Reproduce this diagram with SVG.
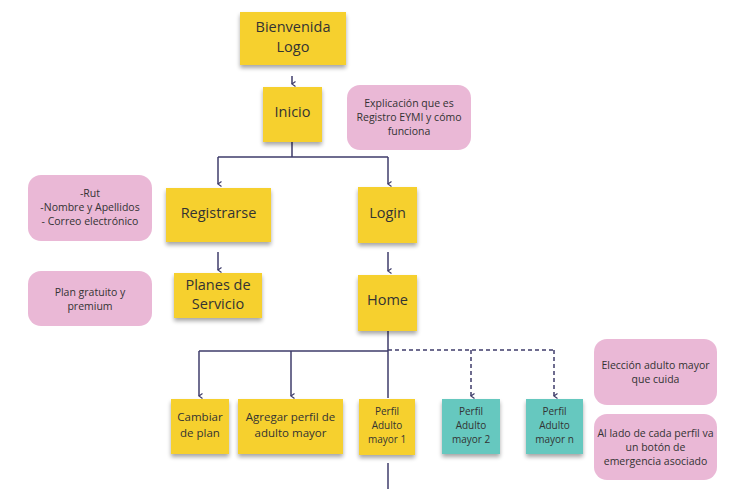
<svg xmlns="http://www.w3.org/2000/svg" width="740" height="489" viewBox="0 0 740 489">
<defs>
<filter id="sh" x="-20%" y="-20%" width="140%" height="160%">
<feGaussianBlur in="SourceAlpha" stdDeviation="2"/>
<feOffset dx="0" dy="3" result="b"/>
<feComponentTransfer><feFuncA type="linear" slope="0.35"/></feComponentTransfer>
<feMerge><feMergeNode/><feMergeNode in="SourceGraphic"/></feMerge>
</filter>
<marker id="ah" markerWidth="6" markerHeight="6" refX="3" refY="5" orient="auto-start-reverse" markerUnits="userSpaceOnUse" viewBox="0 0 6 6">
<path d="M0.5,1.5 L3,5 L5.5,1.5" fill="none" stroke="#3f3d6b" stroke-width="1.2"/>
</marker>
</defs>
<style>
.y{fill:#f6d02f;filter:url(#sh)}
.t{fill:#66c8bf;filter:url(#sh)}
.p{fill:#eab8d6}
text{font-family:"Open Sans","Liberation Sans",sans-serif;fill:#333;text-anchor:middle}
.l{font-size:14.5px}
.m{font-size:11.5px}
.s{font-size:10.5px}
.f{font-size:10px}
.c{fill:none;stroke:#3f3d6b;stroke-width:1.5}
.d{fill:none;stroke:#3f3d6b;stroke-width:1.5;stroke-dasharray:4 3}
</style>
<rect width="740" height="489" fill="#fff"/>
<g id="connectors">
<path class="c" d="M292,76 V84" marker-end="url(#ah)"/>
<path class="c" d="M292,142 V157 M218,157 H388"/>
<path class="c" d="M218,157 V184" marker-end="url(#ah)"/>
<path class="c" d="M388,157 V184" marker-end="url(#ah)"/>
<path class="c" d="M218,252 V270" marker-end="url(#ah)"/>
<path class="c" d="M388,252 V271" marker-end="url(#ah)"/>
<path class="c" d="M388,331 V398 M199,351 H388"/>
<path class="c" d="M199,351 V396" marker-end="url(#ah)"/>
<path class="c" d="M291,351 V396" marker-end="url(#ah)"/>
<path class="c" d="M388,463 V489"/>
<path class="d" d="M388,350 H554"/>
<path class="d" d="M471,350 V396" marker-end="url(#ah)"/>
<path class="d" d="M554,350 V396" marker-end="url(#ah)"/>
</g>
<g id="bienvenida"><rect class="y" x="240" y="12" width="106" height="53"/><text class="l" x="293" y="32">Bienvenida</text><text class="l" x="293" y="52">Logo</text></g>
<g id="inicio"><rect class="y" x="263" y="87" width="59" height="55"/><text class="l" x="292.5" y="117">Inicio</text></g>
<g id="explicacion"><rect class="p" x="347" y="85" width="124" height="65" rx="13"/><text class="s" x="409" y="107">Explicación que es</text><text class="s" x="409" y="121">Registro EYMI y cómo</text><text class="s" x="409" y="135">funciona</text></g>
<g id="datos"><rect class="p" x="28" y="175" width="124" height="66" rx="13"/><text class="s" x="90" y="197">-Rut</text><text class="s" x="90" y="211">-Nombre y Apellidos</text><text class="s" x="90" y="225">- Correo electrónico</text></g>
<g id="registrarse"><rect class="y" x="166" y="188" width="105" height="54"/><text class="l" x="218.5" y="218">Registrarse</text></g>
<g id="login"><rect class="y" x="358" y="187" width="59" height="56"/><text class="l" x="387.5" y="218">Login</text></g>
<g id="plangratuito"><rect class="p" x="28" y="271" width="124" height="55" rx="13"/><text class="s" x="90" y="296">Plan gratuito y</text><text class="s" x="90" y="310">premium</text></g>
<g id="planes"><rect class="y" x="174" y="273" width="88" height="45"/><text class="l" x="218" y="290">Planes de</text><text class="l" x="218" y="309">Servicio</text></g>
<g id="home"><rect class="y" x="358" y="275" width="59" height="56"/><text class="l" x="387.5" y="305">Home</text></g>
<g id="cambiar"><rect class="y" x="171" y="399" width="58" height="55"/><text class="m" x="200" y="421">Cambiar</text><text class="m" x="200" y="437">de plan</text></g>
<g id="agregar"><rect class="y" x="238" y="399" width="105" height="55"/><text class="m" x="290.5" y="421">Agregar perfil de</text><text class="m" x="290.5" y="437">adulto mayor</text></g>
<g id="perfil1"><rect class="y" x="359" y="399" width="56" height="56"/><text class="f" x="387" y="415">Perfil</text><text class="f" x="387" y="429">Adulto</text><text class="f" x="387" y="443">mayor 1</text></g>
<g id="perfil2"><rect class="t" x="442" y="399" width="58" height="55"/><text class="f" x="471" y="415">Perfil</text><text class="f" x="471" y="429">Adulto</text><text class="f" x="471" y="443">mayor 2</text></g>
<g id="perfiln"><rect class="t" x="526" y="399" width="57" height="55"/><text class="f" x="554.5" y="415">Perfil</text><text class="f" x="554.5" y="429">Adulto</text><text class="f" x="554.5" y="443">mayor n</text></g>
<g id="eleccion"><rect class="p" x="594" y="339" width="123" height="66" rx="13"/><text class="s" x="655.5" y="369">Elección adulto mayor</text><text class="s" x="655.5" y="383">que cuida</text></g>
<g id="allado"><rect class="p" x="594" y="414" width="123" height="66" rx="13"/><text class="s" x="655.5" y="437">Al lado de cada perfil va</text><text class="s" x="655.5" y="451">un botón de</text><text class="s" x="655.5" y="465">emergencia asociado</text></g>
</svg>
